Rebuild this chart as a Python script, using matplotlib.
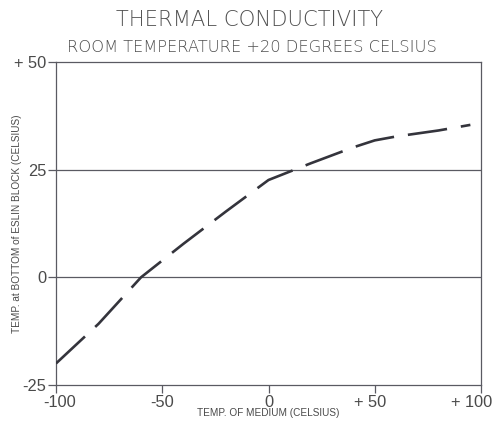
import matplotlib
matplotlib.use("Agg")
import matplotlib.pyplot as plt
import matplotlib.transforms as mtransforms
from matplotlib import font_manager

# curve
medium_temp = [-100, -80, -60, -40, -20, 0, 20, 40, 50, 60, 80, 95]
block_temp = [-20, -10.8, 0, 7.8, 15.3, 22.6, 26.5, 30.2, 31.8, 32.7, 34.1, 35.4]

xticks = [-100, -50, 0, 50, 100]
xticklabels = ["-100", "-50", "0", "+ 50", "+ 100"]
yticks = [-25, 0, 25, 50]
yticklabels = ["-25", "0", "25", "+ 50"]

title = "THERMAL CONDUCTIVITY"
subtitle = "ROOM TEMPERATURE +20 DEGREES CELSIUS"
xlabel = "TEMP. OF MEDIUM (CELSIUS)"
ylabel = "TEMP. at BOTTOM of ESLIN BLOCK (CELSIUS)"

txt = "#4a4a4a"
frame = "#5a5a62"

# narrow digits if available
names = set(f.name for f in font_manager.fontManager.ttflist)
if "Liberation Sans Narrow" in names:
    tickfont, ticksize = "Liberation Sans Narrow", 13
else:
    tickfont, ticksize = "Liberation Sans", 11.8

fig = plt.figure(figsize=(4.96, 4.21), dpi=100)
ax = fig.add_axes([56/496, 1-385/421, 425/496, 323/421])

# horizontal guide lines
for yv in [0, 25]:
    ax.axhline(yv, color=frame, lw=0.9, zorder=1)

line, = ax.plot(medium_temp, block_temp, color="#34343c", lw=1.9, zorder=3)
line.set_dashes([15, 5.3])

ax.set_xlim(-100, 100)
ax.set_ylim(-25, 50)
ax.set_xticks(xticks)
ax.set_xticklabels(xticklabels, family=tickfont)
ax.set_yticks(yticks)
ax.set_yticklabels(yticklabels, family=tickfont)
ax.tick_params(axis="both", colors=frame, labelcolor=txt, labelsize=ticksize,
               length=6, width=0.9, direction="out", pad=1)
for s in ax.spines.values():
    s.set_color(frame)
    s.set_linewidth(0.9)

# the "+" labels sit a little left of their ticks
shifts = [4, 0, 0, -5, -9]
for lab, dx in zip(ax.get_xticklabels(), shifts):
    lab.set_transform(lab.get_transform() +
                      mtransforms.ScaledTranslation(dx/100, 0, fig.dpi_scale_trans))

ax.set_xlabel(xlabel, fontsize=7.2, color=txt, family="Liberation Sans")
ax.xaxis.set_label_coords(0.5, -0.072)
ax.set_ylabel(ylabel, fontsize=7.2, color=txt, family="Liberation Sans")
ax.yaxis.set_label_coords(-0.08, 0.5)

fig.text(0.504, 1-20/421, title, ha="center", va="center", fontsize=15.2,
         color="#505050", fontweight="light")
fig.text(0.508, 1-47/421, subtitle, ha="center", va="center", fontsize=11.7,
         color="#505050", fontweight="light")

fig.savefig("out.png", dpi=100)
